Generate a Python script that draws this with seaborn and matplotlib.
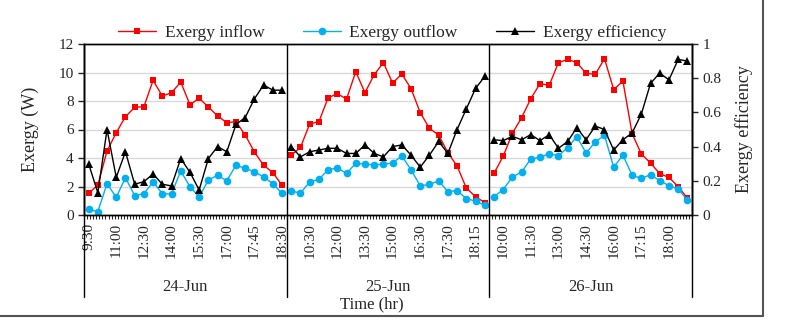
import numpy as np
import pandas as pd
import matplotlib.pyplot as plt
import seaborn as sns
from matplotlib.lines import Line2D
from matplotlib.transforms import blended_transform_factory

# Data
days = ['24-Jun', '25-Jun', '26-Jun']

times_24 = ['9:30', '10:00', '10:30', '11:00', '11:30', '12:00', '12:30', '13:00',
            '13:30', '14:00', '14:30', '15:00', '15:30', '16:00', '16:30', '17:00',
            '17:15', '17:30', '17:45', '18:00', '18:15', '18:30']
times_25 = ['9:30', '10:00', '10:30', '11:00', '11:30', '12:00', '12:30', '13:00',
            '13:30', '14:00', '14:30', '15:00', '15:30', '16:00', '16:30', '16:50',
            '17:10', '17:30', '17:45', '18:00', '18:15', '18:30']
times_26 = ['9:30', '10:00', '10:30', '11:00', '11:30', '12:00', '12:30', '13:00',
            '13:30', '14:00', '14:30', '15:00', '15:30', '16:00', '16:25', '16:50',
            '17:15', '17:30', '17:45', '18:00', '18:15', '18:30']

inflow_24 = [1.52, 2.10, 4.49, 5.78, 6.90, 7.56, 7.60, 9.45, 8.35, 8.58, 9.33,
             7.74, 8.19, 7.58, 6.95, 6.48, 6.55, 5.61, 4.42, 3.49, 2.97, 2.08]
inflow_25 = [4.19, 4.75, 6.39, 6.55, 8.23, 8.51, 8.14, 10.06, 8.58, 9.85, 10.69,
             9.26, 9.89, 8.87, 7.18, 6.08, 5.61, 4.37, 3.44, 1.89, 1.29, 0.87]
inflow_26 = [2.92, 4.12, 5.73, 6.83, 8.16, 9.22, 9.10, 10.69, 10.92, 10.69, 9.94,
             9.87, 10.97, 8.80, 9.40, 5.71, 4.28, 3.65, 2.90, 2.64, 1.99, 1.19]

outflow_24 = [0.42, 0.23, 2.20, 1.24, 2.62, 1.36, 1.50, 2.32, 1.50, 1.47, 3.09,
              1.99, 1.26, 2.46, 2.78, 2.41, 3.49, 3.27, 3.04, 2.67, 2.20, 1.52]
outflow_25 = [1.68, 1.54, 2.32, 2.50, 3.18, 3.30, 2.92, 3.63, 3.56, 3.53, 3.56,
              3.65, 4.14, 3.18, 2.04, 2.15, 2.39, 1.64, 1.71, 1.15, 0.98, 0.68]
outflow_26 = [1.29, 1.78, 2.67, 3.02, 3.93, 4.05, 4.30, 4.16, 4.73, 5.50, 4.35,
              5.12, 5.59, 3.35, 4.21, 2.78, 2.57, 2.83, 2.41, 2.06, 1.82, 1.05]

eff_24 = [0.30, 0.13, 0.50, 0.22, 0.37, 0.18, 0.195, 0.24, 0.18, 0.17, 0.33,
          0.25, 0.146, 0.33, 0.40, 0.37, 0.53, 0.57, 0.68, 0.76, 0.73, 0.73]
eff_25 = [0.40, 0.34, 0.37, 0.38, 0.39, 0.39, 0.36, 0.36, 0.41, 0.36, 0.34,
          0.40, 0.41, 0.35, 0.28, 0.35, 0.43, 0.36, 0.50, 0.62, 0.74, 0.81]
eff_26 = [0.44, 0.435, 0.46, 0.44, 0.47, 0.435, 0.47, 0.39, 0.43, 0.51, 0.44,
          0.52, 0.50, 0.38, 0.44, 0.48, 0.59, 0.77, 0.83, 0.79, 0.91, 0.90]

# every third category gets a label (as in the Excel axis)
label_every = 3

#%%
# Build one long table
frames = []
for d, t, i, o, e in zip(days, [times_24, times_25, times_26],
                         [inflow_24, inflow_25, inflow_26],
                         [outflow_24, outflow_25, outflow_26],
                         [eff_24, eff_25, eff_26]):
    frames.append(pd.DataFrame({'day': d, 'time': t, 'inflow': i,
                                'outflow': o, 'efficiency': e}))
df = pd.concat(frames, ignore_index=True)
df['pos'] = np.arange(len(df))
n = len(df)

#%%
sns.set_style("white")
plt.rcParams['font.family'] = ['Liberation Serif', 'DejaVu Serif']

fig = plt.figure(figsize=(7.96, 3.23), dpi=100)
ax = fig.add_axes([84 / 796, 1 - 215 / 323, 608 / 796, 171 / 323])

sns.lineplot(data=df, x='pos', y='inflow', units='day', estimator=None, ax=ax,
             color='#ff0000', marker='s', markersize=5, markeredgewidth=0, linewidth=1)
sns.lineplot(data=df, x='pos', y='outflow', units='day', estimator=None, ax=ax,
             color='#00b0f0', marker='o', markersize=5.5, markeredgewidth=0, linewidth=1)

ax2 = ax.twinx()
sns.lineplot(data=df, x='pos', y='efficiency', units='day', estimator=None, ax=ax2,
             color='black', marker='^', markersize=5.5, markeredgewidth=0, linewidth=1)

ax.set_xlim(-0.5, n - 0.5)
ax.set_ylim(0, 12)
ax2.set_ylim(0, 1)
ax.set_yticks(np.arange(0, 13, 2))
ax2.set_yticks([0, 0.2, 0.4, 0.6, 0.8, 1])
ax2.set_yticklabels(['0', '0.2', '0.4', '0.6', '0.8', '1'])

ax.yaxis.grid(True, color='#d9d9d9', linewidth=1)
ax.set_axisbelow(True)

label_pos = df['pos'][::label_every]
ax.set_xticks(label_pos)
ax.set_xticklabels(df['time'][::label_every], rotation=90)
ax.set_xticks(np.arange(-0.5, n - 0.4, 1 / 3), minor=True)
ax.tick_params(axis='x', which='major', length=0, pad=6, labelsize=11)
ax.tick_params(axis='x', which='minor', length=3, width=0.8, direction='out', bottom=True)
ax.tick_params(axis='y', length=4, width=1, direction='out', left=True, labelsize=11)
ax2.tick_params(axis='y', length=4, width=1, direction='out', right=True, labelsize=11)

for spine in list(ax.spines.values()) + list(ax2.spines.values()):
    spine.set_color('black')
    spine.set_linewidth(1)

ax.set_xlabel('')
ax.set_ylabel('Exergy (W)', fontsize=13, labelpad=14)
ax2.set_ylabel('Exergy efficiency', fontsize=13, labelpad=10)

# day separators inside and below the plot
trans = blended_transform_factory(ax.transData, ax.transAxes)
bounds = [-0.5]
for k in range(len(days)):
    bounds.append(bounds[-1] + len(df[df['day'] == days[k]]))
for b in bounds:
    ax.plot([b, b], [-0.48, 1], color='black', linewidth=1, transform=trans,
            clip_on=False, zorder=5)
for k, d in enumerate(days):
    ax.text((bounds[k] + bounds[k + 1]) / 2, -0.42, d, transform=trans,
            ha='center', va='center', fontsize=12)

fig.text(372 / 796, 1 - 304 / 323, 'Time (hr)', ha='center', va='center', fontsize=12)

# legend
handles = [Line2D([], [], color='#ff0000', marker='s', markersize=5, markeredgewidth=0, lw=1),
           Line2D([], [], color='#00b0f0', marker='o', markersize=5.5, markeredgewidth=0, lw=1),
           Line2D([], [], color='black', marker='^', markersize=5.5, markeredgewidth=0, lw=1)]
fig.legend(handles, ['Exergy inflow', 'Exergy outflow', 'Exergy efficiency'],
           loc='center', bbox_to_anchor=(392 / 796, 1 - 33 / 323), ncol=3,
           frameon=False, fontsize=12.5, handlelength=2.2, handletextpad=0.5,
           columnspacing=2.2)

# outer frame edges (right and bottom)
fig.add_artist(Line2D([763 / 796, 763 / 796], [1 - 316 / 323, 1.0],
                      color='#555555', linewidth=1.5, transform=fig.transFigure))
fig.add_artist(Line2D([0, 763 / 796], [1 - 316 / 323, 1 - 316 / 323],
                      color='#555555', linewidth=1.5, transform=fig.transFigure))

fig.savefig('out.png', dpi=100)
